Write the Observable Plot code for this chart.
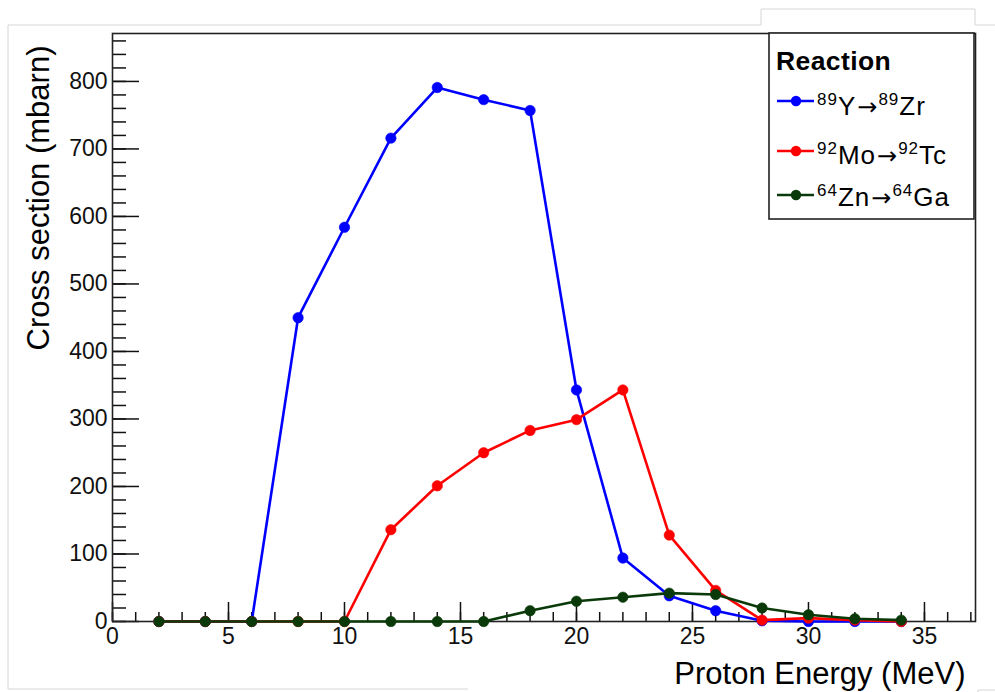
<!DOCTYPE html>
<html>
<head>
<meta charset="utf-8">
<script src="https://cdn.jsdelivr.net/npm/d3@7"></script>
<script src="https://cdn.jsdelivr.net/npm/@observablehq/plot@0.6"></script>
<style>
  html, body { margin: 0; padding: 0; background: #fff; }
  #wrap { position: relative; width: 995px; height: 692px; overflow: hidden; font-family: "Liberation Sans", Arial, Helvetica, sans-serif; }
  #wrap > svg { position: absolute; left: 0; top: 0; }
  #overlay { position: absolute; left: 0; top: 0; pointer-events: none; }
</style>
</head>
<body>
<div id="wrap"></div>
<script>
// ---- data ----
const energy = [2, 4, 6, 8, 10, 12, 14, 16, 18, 20, 22, 24, 26, 28, 30, 32, 34];
const yZr  = [0, 0, 0, 450, 584, 716, 791, 773, 757, 343, 94, 38, 16, 1, 0, 0, 0];
const moTc = [0, 0, 0, 0, 0, 136, 201, 250, 283, 299, 343, 128, 46, 2, 5, 2, 0];
const znGa = [0, 0, 0, 0, 0, 0, 0, 0, 16, 30, 36, 42, 40, 20, 10, 4, 2];

const seriesNames = ["89Y→89Zr", "92Mo→92Tc", "64Zn→64Ga"];
const seriesColors = ["#0000ff", "#ff0000", "#0a3a0a"];
const seriesValues = [yZr, moTc, znGa];

const xMajor = [0, 5, 10, 15, 20, 25, 30, 35];
const xMinor = d3.range(0, 38, 1);
const yMajor = [0, 100, 200, 300, 400, 500, 600, 700, 800];
const yMinor = d3.range(0, 871, 20);

const xTitle = "Proton Energy (MeV)";
const yTitle = "Cross section (mbarn)";
const legendTitle = "Reaction";

// long table for Plot
const rows = [];
seriesNames.forEach((s, i) => energy.forEach((e, j) => rows.push({series: s, energy: e, value: seriesValues[i][j]})));

const W = 995, H = 692, mL = 112, mR = 20, mT = 33, mB = 71;
const plotW = W - mL - mR, plotH = H - mT - mB;
const font = '"Liberation Sans", Arial, Helvetica, sans-serif';

const seriesMarks = seriesNames.flatMap((s) => [
  Plot.line(rows, {filter: d => d.series === s, x: "energy", y: "value", stroke: "series", strokeWidth: 2.6}),
  Plot.dot(rows, {filter: d => d.series === s, x: "energy", y: "value", fill: "series", r: 5.2, stroke: "series", strokeWidth: 0.6})
]);

const chart = Plot.plot({
  width: W, height: H,
  marginLeft: mL, marginRight: mR, marginTop: mT, marginBottom: mB,
  style: {fontFamily: font, background: "transparent", overflow: "visible"},
  x: {domain: [0, 37.2]},
  y: {domain: [0, 871]},
  color: {domain: seriesNames, range: seriesColors},
  marks: [
    // inward ticks (ROOT style)
    Plot.tickX(xMinor, {x: d => d, insetTop: plotH - 9, stroke: "#111", strokeWidth: 1.5}),
    Plot.tickX(xMajor, {x: d => d, insetTop: plotH - 19, stroke: "#111", strokeWidth: 1.5}),
    Plot.tickY(yMinor, {y: d => d, insetRight: plotW - 14, stroke: "#111", strokeWidth: 1.5}),
    Plot.tickY(yMajor, {y: d => d, insetRight: plotW - 27, stroke: "#111", strokeWidth: 1.5}),
    Plot.frame({stroke: "#222", strokeWidth: 1.6}),
    Plot.axisX({ticks: xMajor, tickSize: 0, tickPadding: 6, fontSize: 23, color: "#111", label: null, tickFormat: d => String(d)}),
    Plot.axisY({ticks: yMajor, tickSize: 0, tickPadding: 5, fontSize: 23, color: "#111", label: null, tickFormat: d => String(d)}),
    ...seriesMarks,
    Plot.text([xTitle], {frameAnchor: "bottom-right", text: d => d, textAnchor: "end", lineAnchor: "bottom", dx: -10, dy: 62, fontSize: 31, fill: "#000"}),
    Plot.text([yTitle], {frameAnchor: "top-left", text: d => d, textAnchor: "end", lineAnchor: "bottom", rotate: -90, dx: -64, dy: 12, fontSize: 31, fill: "#000"})
  ]
});
document.getElementById("wrap").appendChild(chart);

// ---- legend + page border overlay ----
const ov = d3.select("#wrap").append("svg").attr("id", "overlay").attr("width", W).attr("height", H)
  .attr("font-family", font);

// faint page border from the reference image
ov.append("polyline").attr("points", "8,689 8,25 761,25 761,9 975,9 975,25 995,25")
  .attr("fill", "none").attr("stroke", "#d6d6d6").attr("stroke-width", 1);
ov.append("line").attr("x1", 8).attr("y1", 689).attr("x2", 468).attr("y2", 689).attr("stroke", "#d6d6d6");
ov.append("polyline").attr("points", "978,692 978,690 995,690").attr("fill", "none").attr("stroke", "#d6d6d6");

const lg = ov.append("g");
lg.append("rect").attr("x", 769).attr("y", 33).attr("width", 205).attr("height", 186)
  .attr("fill", "#fff").attr("stroke", "#222").attr("stroke-width", 1.6);
lg.append("text").attr("x", 776).attr("y", 70).attr("font-size", 26.5).attr("letter-spacing", 0.4)
  .attr("font-weight", "bold").text(legendTitle);

const entryParts = [
  [["89", "Y"], ["89", "Zr"]],
  [["92", "Mo"], ["92", "Tc"]],
  [["64", "Zn"], ["64", "Ga"]]
];
const centers = [101, 151, 195];
const baselines = [115, 164, 206];
entryParts.forEach((parts, i) => {
  const c = seriesColors[i];
  lg.append("line").attr("x1", 777).attr("x2", 814).attr("y1", centers[i]).attr("y2", centers[i])
    .attr("stroke", c).attr("stroke-width", 2.6);
  lg.append("circle").attr("cx", 796).attr("cy", centers[i]).attr("r", 5.2).attr("fill", c);
  const t = lg.append("text").attr("x", 817).attr("y", baselines[i]).attr("font-size", 26)
    .attr("letter-spacing", 1).attr("fill", "#000");
  t.append("tspan").attr("font-size", 17).attr("dy", -10).text(parts[0][0]);
  t.append("tspan").attr("dy", 10).text(parts[0][1]);
  t.append("tspan").attr("font-family", "DejaVu Sans").attr("font-size", 24).attr("dx", 1).text("→");
  t.append("tspan").attr("font-size", 17).attr("dy", -10).text(parts[1][0]);
  t.append("tspan").attr("dy", 10).text(parts[1][1]);
});
</script>
</body>
</html>
